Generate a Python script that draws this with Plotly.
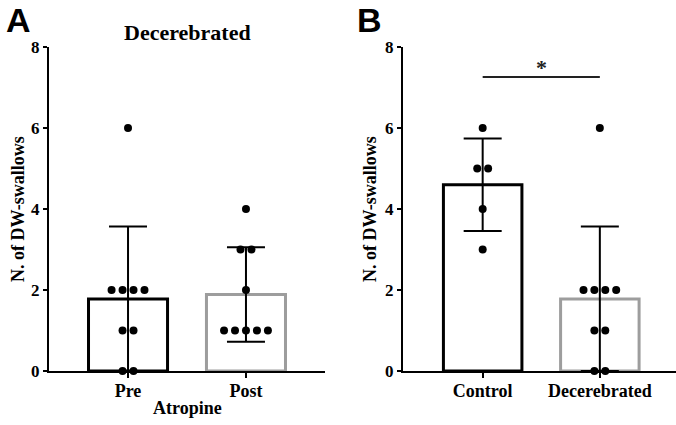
import numpy as np
import plotly.graph_objects as go

# ---- data ----
a_categories = ["Pre", "Post"]
a_pre = [6, 2, 2, 2, 2, 1, 1, 0, 0]
a_post = [4, 3, 3, 2, 1, 1, 1, 1, 1]

b_categories = ["Control", "Decerebrated"]
b_control = [6, 5, 5, 4, 3]
b_decer = [6, 2, 2, 2, 2, 1, 1, 0, 0]

y_ticks = [0, 2, 4, 6, 8]
sig_y = 7.26

W, H = 676, 425
SERIF = "Liberation Serif"
BLACK = "#000000"
GREY = "#9d9d9d"
dot_step = 0.093  # horizontal spacing between tied dots (data units)


def px_x(p):
    return p / W


def px_y(p):
    return 1 - p / H


def swarm(values, center):
    xs, ys = [], []
    vals = np.array(values)
    for v in sorted(set(values), reverse=True):
        n = int((vals == v).sum())
        for i in range(n):
            xs.append(center + (i - (n - 1) / 2) * dot_step)
            ys.append(v)
    return xs, ys


fig = go.Figure()


def add_panel(groups, colors, xa, ya):
    for idx, (vals, col) in enumerate(zip(groups, colors)):
        arr = np.array(vals, dtype=float)
        m = arr.mean()
        sd = arr.std(ddof=1)
        fig.add_trace(go.Bar(
            x=[idx], y=[m], width=0.67,
            marker=dict(color="white", line=dict(color=col, width=3)),
            error_y=dict(type="data", array=[sd], arrayminus=[min(sd, m)],
                         color=BLACK, thickness=2, width=19),
            xaxis=xa, yaxis=ya, showlegend=False,
        ))
        xs, ys = swarm(vals, idx)
        fig.add_trace(go.Scatter(
            x=xs, y=ys, mode="markers",
            marker=dict(color=BLACK, size=8, line=dict(width=0)),
            cliponaxis=False, xaxis=xa, yaxis=ya, showlegend=False,
        ))


add_panel([a_pre, a_post], [BLACK, GREY], "x", "y")
add_panel([b_control, b_decer], [BLACK, GREY], "x2", "y2")

ydom = [px_y(371), px_y(47)]
xtickfont = dict(family=SERIF, size=18, color=BLACK, weight="bold")
ytickfont = dict(family=SERIF, size=17, color=BLACK, weight="bold")
xcommon = dict(showline=True, linecolor=BLACK, linewidth=2, ticks="outside",
               ticklen=5, tickwidth=2, tickcolor=BLACK, showgrid=False,
               zeroline=False, tickvals=[0, 1], tickfont=xtickfont, fixedrange=True,
               automargin=False, ticklabelstandoff=-3)
ycommon = dict(showline=True, linecolor=BLACK, linewidth=2, ticks="outside",
               ticklen=4, tickwidth=2, tickcolor=BLACK, showgrid=False,
               zeroline=False, range=[0, 8], tickvals=y_ticks, domain=ydom,
               tickfont=ytickfont, fixedrange=True, automargin=False)

fig.update_layout(
    template="none",
    width=W, height=H, margin=dict(l=0, r=0, t=0, b=0, pad=0, autoexpand=False),
    paper_bgcolor="white", plot_bgcolor="white",
    barmode="overlay",
    xaxis=dict(**xcommon, domain=[px_x(49), px_x(325)], range=[-0.67, 1.67],
               ticktext=a_categories, anchor="y"),
    yaxis=dict(**ycommon, anchor="x"),
    xaxis2=dict(**xcommon, domain=[px_x(403), 1.0], range=[-0.68, 1.65],
                ticktext=b_categories, anchor="y2"),
    yaxis2=dict(**ycommon, anchor="x2"),
)

ann = []
# panel letters
for letter, xl in (("A", 4), ("B", 355)):
    ann.append(dict(text=letter, x=px_x(xl), y=px_y(20), xref="paper", yref="paper",
                    xanchor="left", yanchor="middle", showarrow=False,
                    font=dict(family="Liberation Sans", size=34, color=BLACK,
                              weight="bold")))
# panel A title
ann.append(dict(text="Decerebrated", x=px_x(187), y=px_y(33), xref="paper",
                yref="paper", xanchor="center", yanchor="middle", showarrow=False,
                font=dict(family=SERIF, size=22, color=BLACK, weight="bold")))
# x title A
ann.append(dict(text="Atropine", x=px_x(187), y=px_y(408), xref="paper",
                yref="paper", xanchor="center", yanchor="middle", showarrow=False,
                font=dict(family=SERIF, size=18, color=BLACK, weight="bold")))
# y titles
for xc in (18, 370):
    ann.append(dict(text="N. of DW-swallows", x=px_x(xc), y=px_y(209),
                    xref="paper", yref="paper", xanchor="center", yanchor="middle",
                    textangle=-90, showarrow=False,
                    font=dict(family=SERIF, size=18, color=BLACK, weight="bold")))
# significance star
ann.append(dict(text="*", x=0.5, y=sig_y, xref="x2", yref="y2", xanchor="center",
                yanchor="bottom", yshift=-5, showarrow=False,
                font=dict(family=SERIF, size=22, color="#222222", weight="bold")))
fig.update_layout(annotations=ann)

fig.add_shape(type="line", x0=0, x1=1, y0=sig_y, y1=sig_y, xref="x2", yref="y2",
              line=dict(color="#222222", width=2))

fig.write_html("out.html")
